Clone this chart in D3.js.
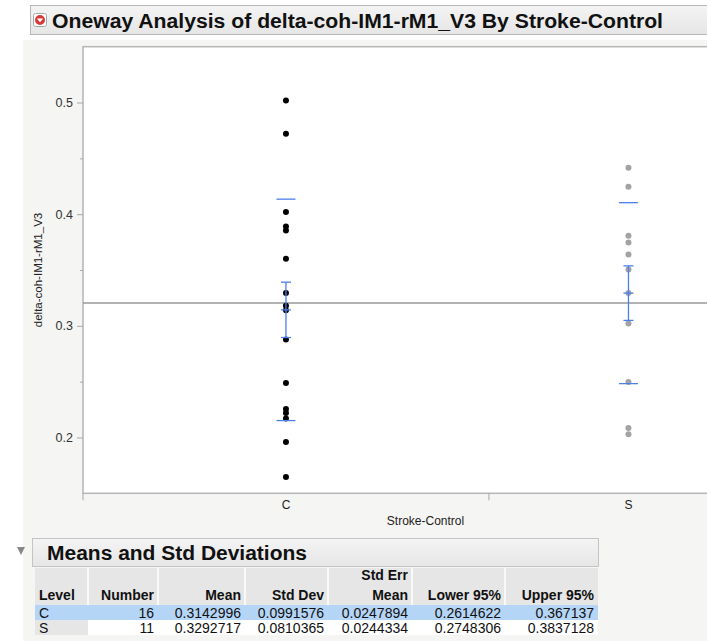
<!DOCTYPE html>
<html>
<head>
<meta charset="utf-8">
<script src="https://cdn.jsdelivr.net/npm/d3@7"></script>
<style>
  body { margin: 0; background: #fff; font-family: "Liberation Sans", Arial, sans-serif; }
  svg { display: block; }
  .axis text { fill: #333; font-size: 12.5px; font-family: "Liberation Sans", Arial, sans-serif; }
  .axis line { stroke: #a8a8a8; }
  .axis path { display: none; }
</style>
</head>
<body>
<svg id="chart"></svg>
<script>
// values
const groups = ['C', 'S'];
const counts = [16, 11];
const cValues = [0.5018, 0.4720, 0.4019, 0.3890, 0.3854, 0.3601, 0.3294, 0.3180, 0.3140,
                 0.2878, 0.2488, 0.2255, 0.2219, 0.2171, 0.1960, 0.1646];
const sValues = [0.4415, 0.4245, 0.3807, 0.3747, 0.3639, 0.3505, 0.3294, 0.3021,
                 0.2497, 0.2085, 0.2028];
const means = [0.3142996, 0.3292717];
const stdDevs = [0.0991576, 0.0810365];
const stdErrs = [0.0247894, 0.0244334];
const lower95 = [0.2614622, 0.2748306];
const upper95 = [0.367137, 0.3837128];
const yTicks = [0.2, 0.3, 0.4, 0.5];
const yMinorTicks = [0.25, 0.35, 0.45];
const tableHeaders = [['', 'Level'], ['', 'Number'], ['', 'Mean'], ['', 'Std Dev'],
                      ['Std Err', 'Mean'], ['', 'Lower 95%'], ['', 'Upper 95%']];

const W = 707, H = 641;
const plot = {left: 83, right: 768, top: 46.7, bottom: 493.3};
const blue = '#4d7fe8';

const svg = d3.select('#chart').attr('width', W).attr('height', H);

// backgrounds
svg.append('rect').attr('x', 23).attr('y', 40).attr('width', W - 23).attr('height', H - 40)
    .attr('fill', '#f5f5f3');

// title bar
const grad = svg.append('defs').append('linearGradient').attr('id', 'bar')
    .attr('x1', 0).attr('y1', 0).attr('x2', 0).attr('y2', 1);
grad.append('stop').attr('offset', 0).attr('stop-color', '#f4f4f4');
grad.append('stop').attr('offset', 1).attr('stop-color', '#e6e6e6');

svg.append('rect').attr('x', 30.5).attr('y', 5.5).attr('width', 700).attr('height', 29)
    .attr('fill', 'url(#bar)').attr('stroke', '#b8b8b8');
svg.append('rect').attr('x', 33.5).attr('y', 13.5).attr('width', 13).attr('height', 13).attr('rx', 2)
    .attr('fill', '#fff').attr('stroke', '#aaa');
svg.append('circle').attr('cx', 40).attr('cy', 20).attr('r', 5).attr('fill', '#d83a3a');
svg.append('path').attr('d', 'M36.8,18.5 L43.2,18.5 L40,22.2 Z').attr('fill', '#fff');
svg.append('text').attr('x', 52).attr('y', 28)
    .attr('font-size', 20).attr('font-weight', 'bold').attr('fill', '#111')
    .attr('textLength', 611).attr('lengthAdjust', 'spacingAndGlyphs')
    .text('Oneway Analysis of delta-coh-IM1-rM1_V3 By Stroke-Control');

// scales
const y = d3.scaleLinear().domain([0.15, 0.55]).range([plot.bottom, plot.top]);
const total = d3.sum(counts);
const x = d3.scaleLinear().domain([0, total]).range([plot.left, plot.right]);
const cum = d3.cumsum(counts);
const centers = counts.map((n, i) => x(cum[i] - n / 2));
const bounds = cum.slice(0, -1).map(c => x(c));

// plot frame
svg.append('rect').attr('x', plot.left).attr('y', plot.top)
    .attr('width', plot.right - plot.left).attr('height', plot.bottom - plot.top)
    .attr('fill', '#fff').attr('stroke', '#b5b5b5').attr('stroke-width', 1.5);

// y axis
svg.append('g').attr('class', 'axis')
    .attr('transform', `translate(${plot.left},0)`)
    .call(d3.axisLeft(y).tickValues(yTicks).tickSize(6).tickPadding(4).tickFormat(d3.format('.1f')));
svg.append('g').attr('class', 'axis')
    .attr('transform', `translate(${plot.left},0)`)
    .call(d3.axisLeft(y).tickValues(yMinorTicks).tickSize(3).tickFormat(''));
svg.append('line').attr('x1', plot.left).attr('x2', plot.left)
    .attr('y1', plot.bottom).attr('y2', plot.bottom + 7).attr('stroke', '#a8a8a8');

svg.append('text')
    .attr('transform', `translate(42,${(plot.top + plot.bottom) / 2}) rotate(-90)`)
    .attr('text-anchor', 'middle').attr('font-size', 11.5).attr('fill', '#222')
    .text('delta-coh-IM1-rM1_V3');

// x axis
const xg = svg.append('g');
bounds.forEach(b => {
    xg.append('line').attr('x1', b).attr('x2', b)
        .attr('y1', plot.bottom).attr('y2', plot.bottom + 7).attr('stroke', '#a8a8a8');
});
groups.forEach((g, i) => {
    xg.append('text').attr('x', centers[i]).attr('y', 509).attr('text-anchor', 'middle')
        .attr('font-size', 12).attr('fill', '#222').text(g);
});
svg.append('text').attr('x', (plot.left + plot.right) / 2).attr('y', 525)
    .attr('text-anchor', 'middle').attr('font-size', 12).attr('fill', '#222')
    .text('Stroke-Control');

// grand mean line
const grandMean = d3.sum(means.map((m, i) => m * counts[i])) / total;
svg.append('line').attr('x1', plot.left).attr('x2', plot.right)
    .attr('y1', y(grandMean)).attr('y2', y(grandMean))
    .attr('stroke', '#999').attr('stroke-width', 1.5);

// points
const pointSets = [
    {values: cValues, color: '#000'},
    {values: sValues, color: '#a3a3a3'}
];
pointSets.forEach((s, i) => {
    svg.append('g').selectAll('circle')
        .data(s.values).join('circle')
        .attr('cx', centers[i]).attr('cy', d => y(d))
        .attr('r', 3).attr('fill', s.color);
});

// mean error bars + std dev lines
const eb = svg.append('g').attr('stroke', blue).attr('stroke-width', 1.3);
groups.forEach((g, i) => {
    const cx = centers[i];
    const lo = y(means[i] - stdErrs[i]), hi = y(means[i] + stdErrs[i]);
    eb.append('line').attr('x1', cx).attr('x2', cx).attr('y1', lo).attr('y2', hi);
    [lo, hi, y(means[i])].forEach(v => {
        eb.append('line').attr('x1', cx - 5).attr('x2', cx + 5).attr('y1', v).attr('y2', v);
    });
    [means[i] - stdDevs[i], means[i] + stdDevs[i]].forEach(v => {
        eb.append('line').attr('x1', cx - 9.5).attr('x2', cx + 9.5).attr('y1', y(v)).attr('y2', y(v));
    });
});

// Means and Std Deviations table
svg.append('path').attr('d', 'M17,547 L25,547 L21,555 Z').attr('fill', '#888');
svg.append('rect').attr('x', 32.5).attr('y', 538.5).attr('width', 566).attr('height', 28)
    .attr('fill', 'url(#bar)').attr('stroke', '#c4c4c4');
svg.append('text').attr('x', 47).attr('y', 560)
    .attr('font-size', 20).attr('font-weight', 'bold').attr('fill', '#111')
    .attr('textLength', 260).attr('lengthAdjust', 'spacingAndGlyphs')
    .text('Means and Std Deviations');

const colEdges = [35, 88, 158, 245, 328, 412, 505, 598];
const headTop = 568, headBottom = 605, rowH = 15;
const tbl = svg.append('g').attr('font-size', 14);

tbl.append('rect').attr('x', colEdges[0]).attr('y', headTop)
    .attr('width', colEdges[7] - colEdges[0]).attr('height', headBottom - headTop).attr('fill', '#e6e6e6');
colEdges.slice(1, -1).forEach(e => {
    tbl.append('line').attr('x1', e).attr('x2', e).attr('y1', headTop).attr('y2', headBottom)
        .attr('stroke', '#fff').attr('stroke-width', 1.5);
});
tableHeaders.forEach((h, j) => {
    const left = j === 0;
    const tx = left ? colEdges[0] + 4 : colEdges[j + 1] - 4;
    h.forEach((line, k) => {
        if (!line) return;
        tbl.append('text').attr('x', tx).attr('y', 580 + k * 20)
            .attr('text-anchor', left ? 'start' : 'end').attr('font-weight', 'bold').attr('fill', '#111')
            .text(line);
    });
});

const fmt = v => String(v);
const rows = groups.map((g, i) => [g, counts[i], means[i], stdDevs[i], stdErrs[i], lower95[i], upper95[i]]);
rows.forEach((r, i) => {
    const ry = headBottom + i * rowH;
    if (i === 0) {
        tbl.append('rect').attr('x', colEdges[0]).attr('y', ry)
            .attr('width', colEdges[7] - colEdges[0]).attr('height', rowH).attr('fill', '#b5d5f7');
    } else {
        tbl.append('rect').attr('x', colEdges[0]).attr('y', ry)
            .attr('width', colEdges[1] - colEdges[0]).attr('height', rowH).attr('fill', '#e6e6e6');
        tbl.append('rect').attr('x', colEdges[1]).attr('y', ry)
            .attr('width', colEdges[7] - colEdges[1]).attr('height', rowH).attr('fill', '#fff');
    }
    r.forEach((v, j) => {
        const left = j === 0;
        tbl.append('text').attr('x', left ? colEdges[0] + 4 : colEdges[j + 1] - 4)
            .attr('y', ry + 12.5).attr('text-anchor', left ? 'start' : 'end').attr('fill', '#111')
            .text(fmt(v));
    });
});
</script>
</body>
</html>
